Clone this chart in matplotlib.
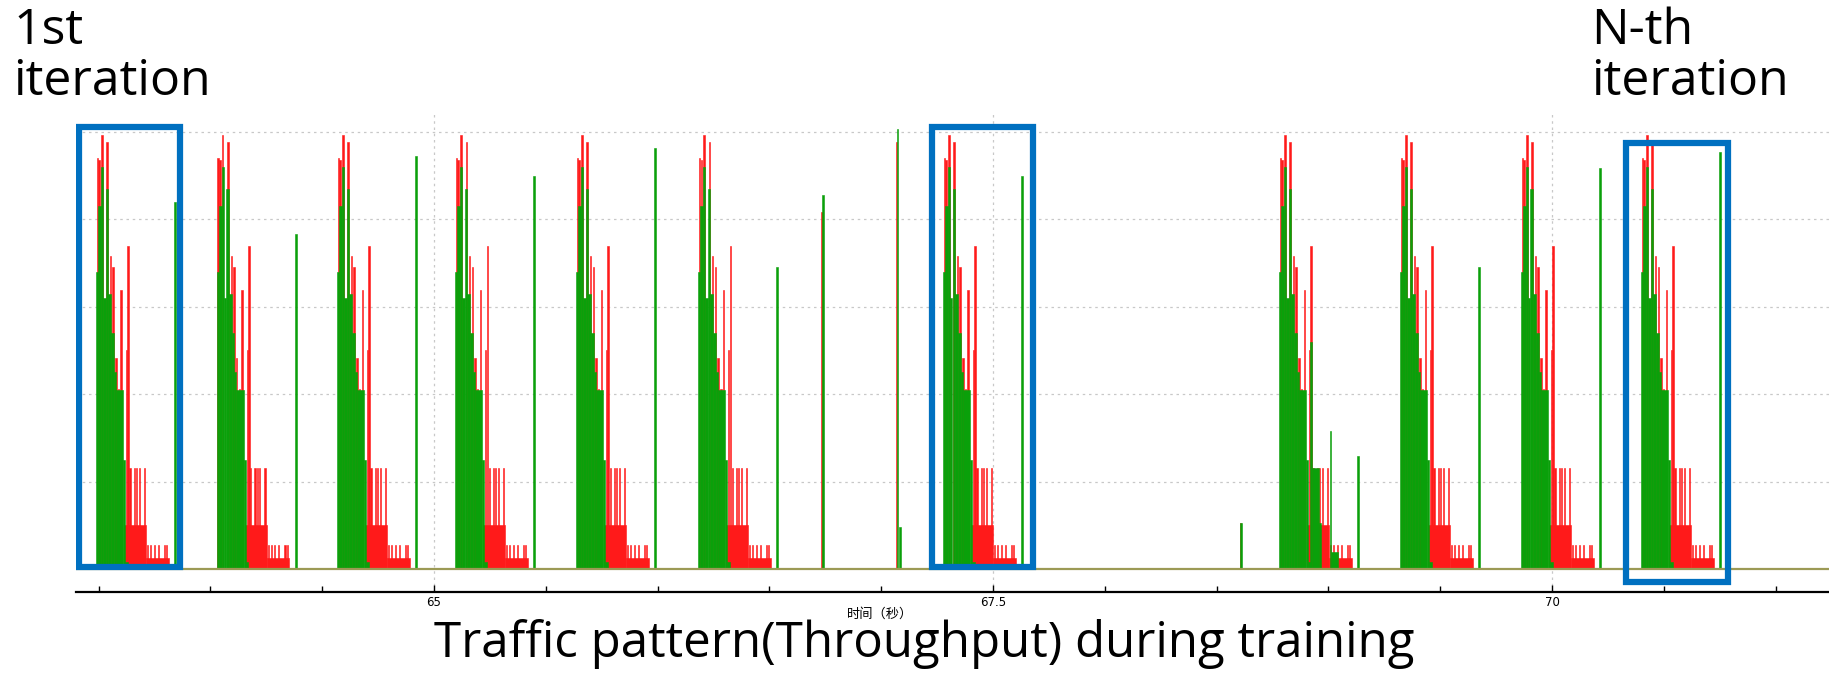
import matplotlib
matplotlib.use("Agg")
import matplotlib.pyplot as plt
from matplotlib.patches import Rectangle
from matplotlib.ticker import MultipleLocator, FixedLocator
import numpy as np

# start time (s) of each training iteration burst
burst_start = [63.488, 64.028, 64.566, 65.094, 65.635, 66.181,
               67.276, 68.779, 69.320, 69.861, 70.398]
# height of the green spike that closes each burst
tail_green_h = [4.20, 3.83, 4.72, 4.50, 4.82, 3.45, 4.50, 1.29, 3.46, 4.59, 4.77]
tail_green_off_ms = 350

# typical burst shape, offsets in ms from burst start
green_off_ms = [0, 10, 22, 33, 43, 55, 67, 79, 88, 122, 130]
green_w_ms = [10, 12, 11, 10, 12, 12, 12, 9, 34, 8, 12]
green_h = [3.40, 4.15, 4.60, 3.10, 4.35, 3.15, 2.70, 2.25, 2.05, 1.25, 0.08]

red_off_ms = [3, 11, 23, 47, 62, 74, 86, 98, 110, 134, 141,
              127, 225,
              150, 169, 180, 191, 214,
              228, 243, 258, 276, 303, 313]
red_w_ms = [7, 7, 7, 7, 7, 7, 7, 7, 7, 6, 6,
            98, 100,
            5, 5, 5, 5, 5,
            5, 5, 5, 5, 5, 5]
red_h = [4.70, 4.68, 4.97, 4.89, 3.58, 3.45, 2.41, 2.06, 3.19, 2.51, 3.70,
         0.50, 0.13,
         1.15, 1.15, 1.15, 1.15, 1.15,
         0.27, 0.27, 0.27, 0.27, 0.27, 0.27]

# burst at 68.78 s keeps more green traffic in its tail
b8_green_off_ms = [139, 150, 180, 228, 235]
b8_green_w_ms = [8, 30, 10, 6, 30]
b8_green_h = [2.60, 1.15, 0.53, 1.58, 0.20]

# isolated spikes outside the regular bursts
solo_red_t = [66.733, 67.066, 68.605]
solo_red_h = [4.09, 4.89, 0.53]
solo_green_t = [66.737, 67.071, 67.081, 68.606]
solo_green_h = [4.28, 5.03, 0.48, 0.53]

# highlighted iterations (time range, y range)
box_t = [(63.412, 63.864), (67.227, 67.679), (70.331, 70.787)]
box_y = [(0.02, 5.06), (0.02, 5.06), (-0.15, 4.87)]

RED = "#ff1a1a"
GREEN = "#0aa00a"
BLUE = "#0070c0"

fig = plt.figure(figsize=(18.29, 6.74), dpi=100)
ax = fig.add_axes([76 / 1829, (674 - 592) / 674, 1 - 76 / 1829, (592 - 113) / 674])

rx, rw, rh = [], [], []
gx, gw, gh = [], [], []
for i, t0 in enumerate(burst_start):
    for o, w, h in zip(red_off_ms, red_w_ms, red_h):
        rx.append(t0 + o / 1000)
        rw.append(w / 1000)
        rh.append(h)
    for o, w, h in zip(green_off_ms, green_w_ms, green_h):
        gx.append(t0 + o / 1000)
        gw.append(w / 1000)
        gh.append(h)
    if i == 7:
        for o, w, h in zip(b8_green_off_ms, b8_green_w_ms, b8_green_h):
            gx.append(t0 + o / 1000)
            gw.append(w / 1000)
            gh.append(h)
    gx.append(t0 + tail_green_off_ms / 1000)
    gw.append(0.008)
    gh.append(tail_green_h[i])

for t, h in zip(solo_red_t, solo_red_h):
    rx.append(t)
    rw.append(0.006)
    rh.append(h)
for t, h in zip(solo_green_t, solo_green_h):
    gx.append(t)
    gw.append(0.006)
    gh.append(h)

ax.bar(rx, rh, width=rw, align="edge", color=RED, edgecolor=RED, linewidth=0.4, zorder=3)
ax.bar(gx, gh, width=gw, align="edge", color=GREEN, edgecolor=GREEN, linewidth=0.4, zorder=4)
ax.axhline(0, color="#9c9a55", linewidth=1.6, zorder=5)

for (t1, t2), (y1, y2) in zip(box_t, box_y):
    ax.add_patch(Rectangle((t1, y1), t2 - t1, y2 - y1, fill=False,
                           edgecolor=BLUE, linewidth=4.5, zorder=6))

ax.set_xlim(63.399, 71.239)
ax.set_ylim(-0.263, 5.217)

for y in [1, 2, 3, 4, 5]:
    ax.axhline(y, color="#c8c8c8", linewidth=0.9, linestyle=(0, (2, 3)), zorder=1)
for x in [65, 67.5, 70]:
    ax.axvline(x, color="#c8c8c8", linewidth=0.9, linestyle=(0, (2, 3)), zorder=1)

for s in ["left", "right", "top"]:
    ax.spines[s].set_visible(False)
ax.spines["bottom"].set_linewidth(1.6)
ax.set_yticks([])
ax.xaxis.set_major_locator(FixedLocator([65, 67.5, 70]))
ax.set_xticklabels(["65", "67.5", "70"])
ax.xaxis.set_minor_locator(MultipleLocator(0.5))
ax.tick_params(axis="x", which="both", direction="in", labelsize=8.5, pad=3)
ax.tick_params(axis="x", which="major", length=5, width=1)
ax.tick_params(axis="x", which="minor", length=4, width=1)

ax.set_xlabel("时间（秒）", fontsize=9.5, family=["Noto Sans CJK SC", "DejaVu Sans"])
ax.xaxis.set_label_coords((880 - 76) / 1753, -0.032)

fig.text(924 / 1829, 1 - 657 / 674, "Traffic pattern(Throughput) during training",
         ha="center", va="baseline", fontsize=35.5, family="Open Sans")
fig.text(13 / 1829, 1 - 6 / 674, "1st\niteration", ha="left", va="top",
         fontsize=36, family="Open Sans", linespacing=1.05)
fig.text(1591 / 1829, 1 - 6 / 674, "N-th\niteration", ha="left", va="top",
         fontsize=36, family="Open Sans", linespacing=1.05)

fig.savefig("out.png", dpi=100, facecolor="white")
